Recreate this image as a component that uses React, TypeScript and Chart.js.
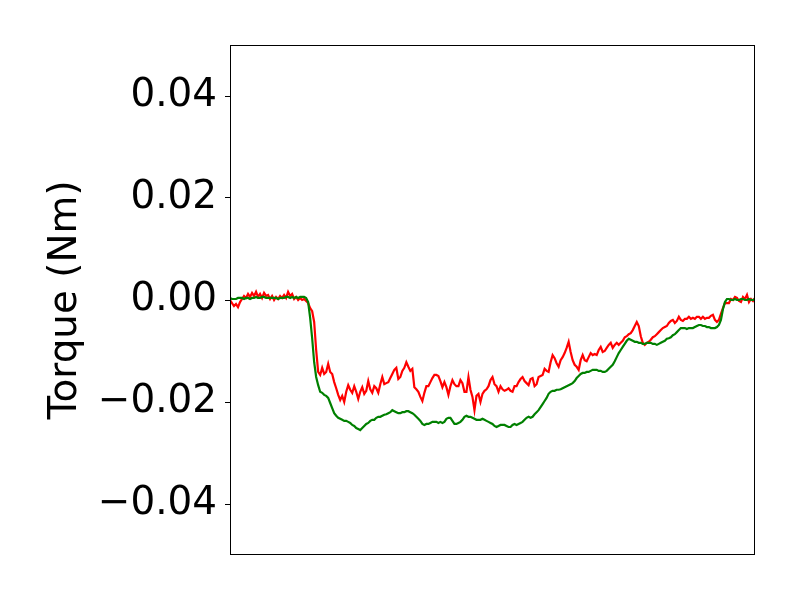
import React, { useEffect, useRef } from "react";
import { Chart, registerables } from "chart.js";

Chart.register(...registerables);

// Torque samples (Nm), uniform sampling
const redTorque: number[] = [
  0, -0.0006, -0.0012, -0.0008, -0.0014, -0.0004, 0.0002, 0.0008, 0.0004, 0.0012,
  0.0006, 0.0014, 0.0008, 0.0016, 0.0006, 0.0012, 0.0004, 0.0014, 0.0008, 0.0010,
  0.0002, 0.0008, 0, 0.0006, 0.0002, 0.0008, 0.0004, 0.0010, 0.0004, 0.0016,
  0.0008, 0.0012, 0.0002, 0.0006, 0, 0.0004, 0, 0.0002, -0.0002, -0.0006,
  -0.0016, -0.0022, -0.0043, -0.0098, -0.0141, -0.0147, -0.0133, -0.0145, -0.0141, -0.0125,
  -0.0141, -0.0145, -0.0161, -0.0173, -0.0186, -0.0196, -0.0188, -0.0200, -0.0180, -0.0167,
  -0.0176, -0.0182, -0.0169, -0.0180, -0.0194, -0.0180, -0.0171, -0.0184, -0.0178, -0.0159,
  -0.0175, -0.0182, -0.0169, -0.0173, -0.0182, -0.0165, -0.0151, -0.0165, -0.0163, -0.0161,
  -0.0153, -0.0145, -0.0137, -0.0133, -0.0155, -0.0151, -0.0139, -0.0133, -0.0122, -0.0131,
  -0.0139, -0.0135, -0.0171, -0.0175, -0.0180, -0.0190, -0.0198, -0.0182, -0.0169, -0.0169,
  -0.0161, -0.0153, -0.0147, -0.0147, -0.0149, -0.0159, -0.0171, -0.0161, -0.0171, -0.0186,
  -0.0169, -0.0157, -0.0165, -0.0169, -0.0169, -0.0157, -0.0163, -0.0180, -0.0180, -0.0151,
  -0.0176, -0.0190, -0.0216, -0.0188, -0.0184, -0.0200, -0.0184, -0.0178, -0.0175, -0.0169,
  -0.0157, -0.0151, -0.0165, -0.0169, -0.0180, -0.0169, -0.0175, -0.0178, -0.0176, -0.0173,
  -0.0178, -0.0180, -0.0169, -0.0169, -0.0161, -0.0155, -0.0151, -0.0159, -0.0163, -0.0167,
  -0.0155, -0.0153, -0.0169, -0.0165, -0.0151, -0.0149, -0.0147, -0.0135, -0.0139, -0.0141,
  -0.0122, -0.0108, -0.0114, -0.0124, -0.0131, -0.0118, -0.0112, -0.0104, -0.0094, -0.0082,
  -0.0102, -0.0118, -0.0127, -0.0131, -0.0137, -0.0118, -0.0108, -0.0118, -0.0120, -0.0112,
  -0.0104, -0.0108, -0.0106, -0.0108, -0.0098, -0.0092, -0.0102, -0.0100, -0.0094, -0.0088,
  -0.0084, -0.0094, -0.0088, -0.0084, -0.0088, -0.0084, -0.0080, -0.0073, -0.0071, -0.0067,
  -0.0065, -0.0059, -0.0051, -0.0043, -0.0051, -0.0071, -0.0084, -0.0088, -0.0084, -0.0082,
  -0.0078, -0.0073, -0.0071, -0.0067, -0.0063, -0.0059, -0.0055, -0.0053, -0.0051, -0.0045,
  -0.0041, -0.0039, -0.0045, -0.0041, -0.0033, -0.0039, -0.0041, -0.0037, -0.0037, -0.0033,
  -0.0037, -0.0035, -0.0037, -0.0033, -0.0033, -0.0037, -0.0033, -0.0037, -0.0035, -0.0035,
  -0.0031, -0.0029, -0.0039, -0.0043, -0.0039, -0.0027, -0.0016, -0.0006, -0.0006, -0.0006,
  0.0002, 0, 0.0006, 0.0004, -0.0002, -0.0004, 0.0006, 0.0002, 0.0010, -0.0004,
  0.0002, -0.0002, 0.0004,
];

const greenTorque: number[] = [
  0.0004, 0.0002, 0.0002, 0.0002, 0.0004, 0.0004, 0.0004, 0.0002, 0.0004, 0.0004,
  0.0002, 0.0004, 0.0004, 0.0006, 0.0004, 0.0004, 0.0006, 0.0006, 0.0004, 0.0004,
  0.0004, 0.0004, 0.0004, 0.0004, 0.0002, 0.0004, 0.0004, 0.0004, 0.0006, 0.0006,
  0.0004, 0.0006, 0.0004, 0.0006, 0.0004, 0.0006, 0.0006, 0.0006, 0.0004, -0.0004,
  -0.0035, -0.0075, -0.0122, -0.0151, -0.0167, -0.0180, -0.0182, -0.0186, -0.0188, -0.0192,
  -0.0202, -0.0212, -0.0222, -0.0227, -0.0231, -0.0233, -0.0235, -0.0237, -0.0237, -0.0239,
  -0.0241, -0.0245, -0.0247, -0.0251, -0.0253, -0.0255, -0.0251, -0.0247, -0.0243, -0.0241,
  -0.0237, -0.0235, -0.0235, -0.0231, -0.0229, -0.0229, -0.0227, -0.0225, -0.0224, -0.0222,
  -0.0220, -0.0216, -0.0218, -0.0220, -0.0222, -0.0222, -0.0220, -0.0220, -0.0218, -0.0218,
  -0.0220, -0.0222, -0.0225, -0.0229, -0.0233, -0.0237, -0.0243, -0.0245, -0.0243, -0.0243,
  -0.0241, -0.0239, -0.0239, -0.0239, -0.0241, -0.0239, -0.0241, -0.0239, -0.0233, -0.0231,
  -0.0231, -0.0237, -0.0243, -0.0243, -0.0241, -0.0239, -0.0235, -0.0229, -0.0227, -0.0229,
  -0.0229, -0.0231, -0.0233, -0.0235, -0.0235, -0.0235, -0.0233, -0.0235, -0.0237, -0.0239,
  -0.0241, -0.0243, -0.0247, -0.0249, -0.0247, -0.0245, -0.0245, -0.0245, -0.0247, -0.0249,
  -0.0249, -0.0245, -0.0243, -0.0245, -0.0243, -0.0241, -0.0239, -0.0235, -0.0231, -0.0229,
  -0.0231, -0.0229, -0.0224, -0.0220, -0.0216, -0.0210, -0.0204, -0.0198, -0.0192, -0.0184,
  -0.0180, -0.0178, -0.0178, -0.0176, -0.0176, -0.0175, -0.0173, -0.0171, -0.0169, -0.0167,
  -0.0165, -0.0163, -0.0159, -0.0153, -0.0149, -0.0145, -0.0143, -0.0143, -0.0141, -0.0141,
  -0.0139, -0.0137, -0.0137, -0.0137, -0.0139, -0.0139, -0.0141, -0.0141, -0.0139, -0.0135,
  -0.0131, -0.0127, -0.0120, -0.0112, -0.0104, -0.0098, -0.0092, -0.0086, -0.0080, -0.0076,
  -0.0078, -0.0080, -0.0082, -0.0082, -0.0084, -0.0084, -0.0086, -0.0086, -0.0084, -0.0084,
  -0.0084, -0.0086, -0.0086, -0.0088, -0.0086, -0.0084, -0.0082, -0.0080, -0.0076, -0.0075,
  -0.0073, -0.0069, -0.0067, -0.0063, -0.0059, -0.0055, -0.0055, -0.0055, -0.0057, -0.0055,
  -0.0055, -0.0055, -0.0053, -0.0051, -0.0049, -0.0049, -0.0051, -0.0051, -0.0053, -0.0053,
  -0.0055, -0.0055, -0.0055, -0.0053, -0.0049, -0.0039, -0.0018, -0.0004, 0.0002, 0.0002,
  0, 0, 0.0002, 0, 0, 0.0002, 0.0002, 0, 0, 0.0002,
  0, 0, 0.0002,
];

const yTickValues: number[] = [-0.04, -0.02, 0, 0.02, 0.04];
const yMin = -0.05;
const yMax = 0.05;
const yLabel = "Torque (Nm)";

const FONT = "'DejaVu Sans', sans-serif";

const frameBox = {
  id: "frameBox",
  afterDraw(chart: any) {
    const { ctx, chartArea } = chart;
    ctx.save();
    ctx.strokeStyle = "#000";
    ctx.lineWidth = 1;
    ctx.strokeRect(
      Math.round(chartArea.left) + 0.5,
      Math.round(chartArea.top) + 0.5,
      Math.round(chartArea.right - chartArea.left) - 1,
      Math.round(chartArea.bottom - chartArea.top) - 1
    );
    ctx.restore();
  },
};

export default function App() {
  const ref = useRef<HTMLCanvasElement | null>(null);

  useEffect(() => {
    if (!ref.current) return;
    const n = redTorque.length;
    const chart = new Chart(ref.current, {
      type: "line",
      data: {
        datasets: [
          {
            label: "green",
            data: greenTorque.map((y, i) => ({ x: i, y })),
            borderColor: "#008000",
            borderWidth: 2.2,
            pointRadius: 0,
            tension: 0,
            fill: false,
          },
          {
            label: "red",
            data: redTorque.map((y, i) => ({ x: i, y })),
            borderColor: "#ff0000",
            borderWidth: 2.2,
            pointRadius: 0,
            tension: 0,
            fill: false,
          },
        ],
      },
      options: {
        animation: false,
        responsive: false,
        devicePixelRatio: 1,
        layout: { padding: { left: 0, top: 45, right: 45, bottom: 45 } },
        plugins: {
          legend: { display: false },
          tooltip: { enabled: false },
        },
        scales: {
          x: {
            type: "linear",
            display: false,
            min: 0,
            max: n - 1,
          },
          y: {
            type: "linear",
            min: yMin,
            max: yMax,
            afterBuildTicks: (scale: any) => {
              scale.ticks = yTickValues.map((v) => ({ value: v }));
            },
            afterFit: (scale: any) => {
              scale.width = 230;
            },
            grid: {
              display: true,
              drawOnChartArea: false,
              drawTicks: true,
              tickLength: 5,
              tickWidth: 1,
              tickColor: "#000",
            },
            border: { display: false },
            ticks: {
              color: "#000",
              padding: 8,
              font: { family: FONT, size: 38.9 },
              callback: (v: any) => {
                const num = Number(v);
                const s = Math.abs(num).toFixed(2);
                return num < -1e-9 ? "\u2212" + s : s;
              },
            },
            title: {
              display: true,
              text: yLabel,
              color: "#000",
              font: { family: FONT, size: 38.9 },
              padding: { top: 43, bottom: 0 },
            },
          },
        },
      },
      plugins: [frameBox],
    });
    return () => chart.destroy();
  }, []);

  return (
    <div style={{ position: "fixed", left: 0, top: 0, width: 800, height: 600, background: "#fff" }}>
      <canvas ref={ref} width={800} height={600} style={{ width: 800, height: 600 }} />
    </div>
  );
}
